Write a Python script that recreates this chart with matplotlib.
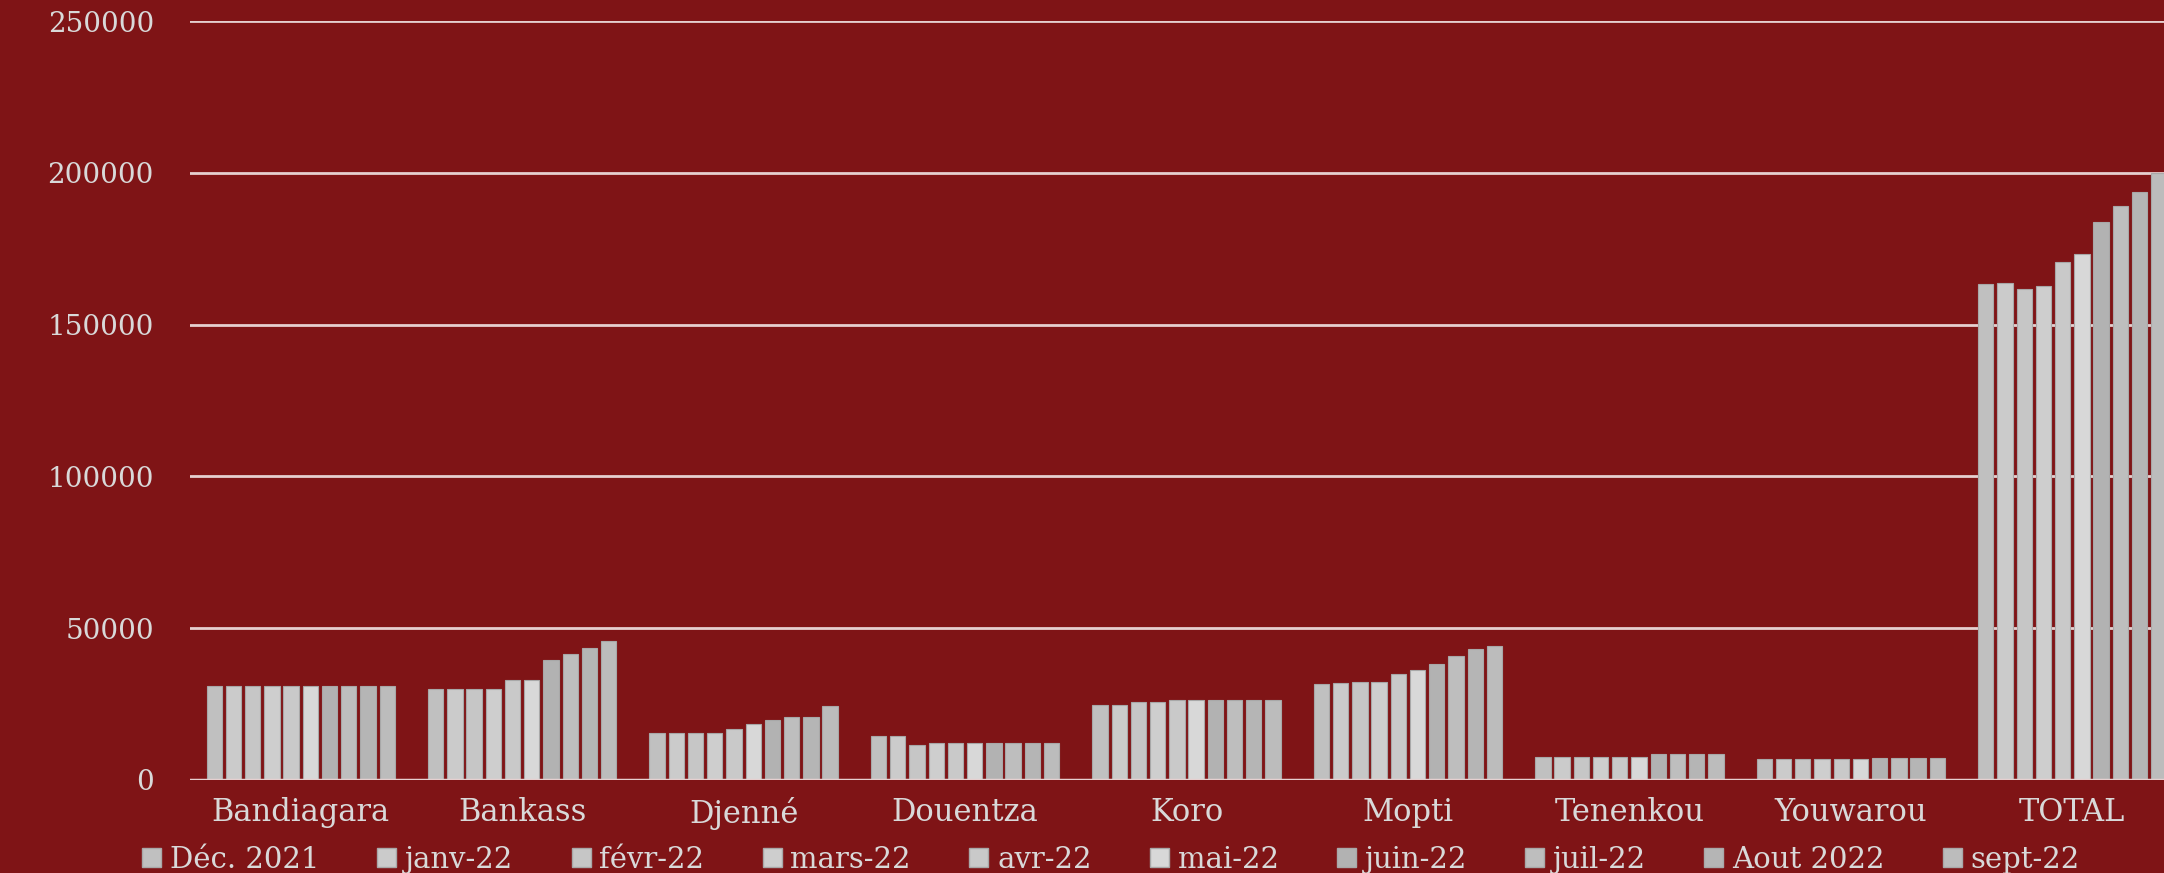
import numpy as np
import matplotlib
matplotlib.use("Agg")
import matplotlib.pyplot as plt
from matplotlib.patches import Patch

cercles = ["Bandiagara", "Bankass", "Djenné", "Douentza", "Koro",
           "Mopti", "Tenenkou", "Youwarou", "TOTAL"]
mois = ["Déc. 2021", "janv-22", "févr-22", "mars-22", "avr-22",
        "mai-22", "juin-22", "juil-22", "Aout 2022", "sept-22"]

# une liste par cercle, de Déc. 2021 à sept-22
bandiagara = [31100, 31100, 31100, 31100, 31100, 31100, 31100, 31100, 31100, 31100]
bankass = [29900, 29900, 29900, 29900, 33000, 33000, 39400, 41500, 43500, 45800]
djenne = [15400, 15400, 15400, 15400, 16950, 18600, 19900, 20700, 20700, 24300]
douentza = [14500, 14500, 11400, 12100, 12100, 12100, 12100, 12100, 12100, 12100]
koro = [24800, 24800, 25800, 25800, 26250, 26250, 26250, 26250, 26250, 26250]
mopti = [31700, 32000, 32350, 32350, 34800, 36100, 38100, 40700, 43150, 44050]
tenenkou = [7700, 7700, 7700, 7700, 7700, 7700, 8400, 8400, 8400, 8400]
youwarou = [7000, 7000, 7000, 7000, 7000, 7000, 7400, 7400, 7400, 7400]
total = [163400, 163800, 161700, 162800, 170500, 173100, 183900, 189200, 193700, 199900]

valeurs = np.array([bandiagara, bankass, djenne, douentza, koro,
                    mopti, tenenkou, youwarou, total])

fond = "#7f1416"
texte = "#d9d9d9"
gris = ["#c0c0c0", "#cbcbcb", "#c6c6c6", "#cecece", "#c9c9c9",
        "#d8d8d8", "#b2b2b2", "#bebebe", "#b5b5b5", "#bcbcbc"]

plt.rcParams["font.family"] = ["DejaVu Serif"]

fig = plt.figure(figsize=(21.64, 8.73), dpi=100, facecolor=fond)
ax = fig.add_axes([190 / 2164, 93 / 873, 1993 / 2164, 759 / 873])
ax.set_facecolor(fond)

x = np.arange(len(cercles))
pas = 0.0868
for j, m in enumerate(mois):
    ax.bar(x + (j - 4.5) * pas, valeurs[:, j], width=pas * 0.8,
           color=gris[j], edgecolor="#a8a8a8", linewidth=0.8,
           label=m, zorder=3)

ax.set_xlim(-0.5, len(cercles) - 0.5)
ax.set_ylim(0, 250000)
ax.set_yticks(np.arange(0, 250001, 50000))
ax.yaxis.grid(True, color="#e6d0d0", linewidth=2, zorder=1)
ax.set_axisbelow(True)
ax.axhline(0, color="#e6d0d0", linewidth=2.5, zorder=4)

for s in ax.spines.values():
    s.set_visible(False)
ax.tick_params(axis="both", length=0, colors=texte)
ax.tick_params(axis="y", labelsize=20, pad=26)
ax.tick_params(axis="x", labelsize=22, pad=12)
ax.set_xticks(x)
ax.set_xticklabels(cercles)

poignees = [Patch(facecolor=gris[j], edgecolor="#a8a8a8", label=m)
            for j, m in enumerate(mois)]
leg = fig.legend(handles=poignees, loc="center", ncol=10,
                 bbox_to_anchor=(1111 / 2164, 1 - 860 / 873),
                 frameon=False, fontsize=21, handlelength=0.65,
                 handleheight=0.65, handletextpad=0.3, columnspacing=2.0)
for t in leg.get_texts():
    t.set_color(texte)

fig.savefig("out.png", dpi=100, facecolor=fond)
